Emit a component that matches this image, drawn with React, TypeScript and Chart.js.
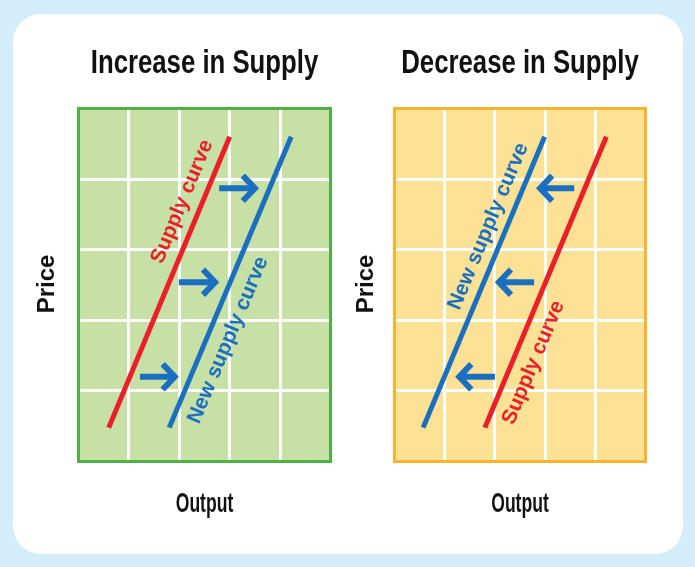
import { useEffect, useRef } from "react";
import { Chart, registerables } from "chart.js";

Chart.register(...registerables);

// ---------- data ----------
const panelTitles = ["Increase in Supply", "Decrease in Supply"];
const xAxisLabel = "Output";
const yAxisLabel = "Price";
const supplyLabel = "Supply curve";
const newSupplyLabel = "New supply curve";

// Increase in Supply
const incSupplyX = [0.6, 3.0];
const incSupplyY = [0.48, 4.6];
const incNewX = [1.8, 4.22];
const incNewY = [0.48, 4.6];
const incArrowY = [3.87, 2.54, 1.2];
const incArrowFrom = [2.79, 1.99, 1.22];
const incArrowTo = [3.5, 2.71, 1.91];
const incSupplyLabelPos = [2.06, 3.68];
const incNewLabelPos = [2.97, 1.72];

// Decrease in Supply
const decSupplyX = [1.8, 4.22];
const decSupplyY = [0.48, 4.6];
const decNewX = [0.57, 2.99];
const decNewY = [0.48, 4.6];
const decArrowY = [3.87, 2.54, 1.2];
const decArrowFrom = [3.58, 2.78, 2.0];
const decArrowTo = [2.9, 2.08, 1.29];
const decSupplyLabelPos = [2.77, 1.4];
const decNewLabelPos = [1.87, 3.33];

const axisMin = 0;
const axisMax = 5;
const headBack = 0.24;
const headHalf = 0.18;

// ---------- styles ----------
const RED = "#ea1f27";
const BLUE = "#1a6fc1";
const SANS = '"Liberation Sans", Arial, Helvetica, sans-serif';
const INK = "#111111";

type Pt = { x: number; y: number };
const pts = (xs: number[], ys: number[]): Pt[] => xs.map((x, i) => ({ x, y: ys[i] }));

type LabelSpec = { text: string; pos: number[]; color: string; along: Pt[] };

function arrowDatasets(ys: number[], from: number[], to: number[]) {
  const out: any[] = [];
  ys.forEach((y, i) => {
    const dir = to[i] > from[i] ? 1 : -1;
    out.push({
      data: [
        { x: from[i], y },
        { x: to[i], y },
      ],
      showLine: true,
      borderColor: BLUE,
      borderWidth: 6,
      borderCapStyle: "butt",
      pointRadius: 0,
    });
    out.push({
      data: [
        { x: to[i] - dir * headBack, y: y + headHalf },
        { x: to[i], y },
        { x: to[i] - dir * headBack, y: y - headHalf },
      ],
      showLine: true,
      borderColor: BLUE,
      borderWidth: 6,
      borderCapStyle: "butt",
      borderJoinStyle: "miter",
      pointRadius: 0,
    });
  });
  return out;
}

type PanelCfg = {
  title: string;
  fill: string;
  stroke: string;
  supply: Pt[];
  newSupply: Pt[];
  arrows: any[];
  labels: LabelSpec[];
  priceOffset: number;
  padding: { left: number; top: number; right: number; bottom: number };
};

function drawText(
  ctx: CanvasRenderingContext2D,
  text: string,
  x: number,
  y: number,
  font: string,
  color: string,
  rotation: number,
  scaleX: number,
  baseline: CanvasTextBaseline
) {
  ctx.save();
  ctx.translate(x, y);
  ctx.rotate(rotation);
  ctx.scale(scaleX, 1);
  ctx.font = font;
  ctx.fillStyle = color;
  ctx.textAlign = "center";
  ctx.textBaseline = baseline;
  ctx.fillText(text, 0, 0);
  ctx.restore();
}

function Panel({ cfg, box }: { cfg: PanelCfg; box: { left: number; top: number; width: number; height: number } }) {
  const ref = useRef<HTMLCanvasElement | null>(null);
  useEffect(() => {
    if (!ref.current) return;
    const panelPlugin = {
      id: "panelDeco",
      beforeDraw(chart: any) {
        const { ctx, chartArea: a } = chart;
        ctx.save();
        ctx.fillStyle = cfg.fill;
        ctx.fillRect(a.left, a.top, a.right - a.left, a.bottom - a.top);
        ctx.restore();
      },
      beforeDatasetsDraw(chart: any) {
        const { ctx, chartArea: a } = chart;
        ctx.save();
        ctx.strokeStyle = cfg.stroke;
        ctx.lineWidth = 3;
        ctx.strokeRect(a.left, a.top, a.right - a.left, a.bottom - a.top);
        ctx.restore();
      },
      afterDatasetsDraw(chart: any) {
        const { ctx, chartArea: a } = chart;
        const xs = chart.scales.x;
        const ys = chart.scales.y;
        // curve labels, rotated along their curve
        cfg.labels.forEach((l) => {
          const p0x = xs.getPixelForValue(l.along[0].x);
          const p0y = ys.getPixelForValue(l.along[0].y);
          const p1x = xs.getPixelForValue(l.along[1].x);
          const p1y = ys.getPixelForValue(l.along[1].y);
          const ang = Math.atan2(p1y - p0y, p1x - p0x);
          drawText(
            ctx,
            l.text,
            xs.getPixelForValue(l.pos[0]),
            ys.getPixelForValue(l.pos[1]),
            `bold 21px ${SANS}`,
            l.color,
            ang,
            1,
            "middle"
          );
        });
        const cx = (a.left + a.right) / 2;
        const cy = (a.top + a.bottom) / 2;
        // panel title
        drawText(ctx, cfg.title, cx, a.top - 35.5, `bold 33px ${SANS}`, INK, 0, 0.78, "alphabetic");
        // x axis title
        drawText(ctx, xAxisLabel, cx, a.bottom + 50.5, `bold 27px ${SANS}`, INK, 0, 0.65, "alphabetic");
        // y axis title
        drawText(ctx, yAxisLabel, a.left - cfg.priceOffset, cy - 1, `bold 24px ${SANS}`, INK, -Math.PI / 2, 1, "alphabetic");
      },
    };

    const chart = new Chart(ref.current, {
      type: "scatter",
      data: {
        datasets: [
          {
            label: supplyLabel,
            data: cfg.supply,
            showLine: true,
            borderColor: RED,
            borderWidth: 5,
            borderCapStyle: "butt",
            pointRadius: 0,
          },
          {
            label: newSupplyLabel,
            data: cfg.newSupply,
            showLine: true,
            borderColor: BLUE,
            borderWidth: 5,
            borderCapStyle: "butt",
            pointRadius: 0,
          },
          ...cfg.arrows,
        ] as any,
      },
      options: {
        animation: false,
        responsive: true,
        maintainAspectRatio: false,
        layout: { padding: cfg.padding },
        plugins: { legend: { display: false }, tooltip: { enabled: false } },
        scales: {
          x: {
            type: "linear",
            min: axisMin,
            max: axisMax,
            ticks: { display: false, stepSize: 1 },
            grid: { color: "#ffffff", lineWidth: 3, drawTicks: false },
            border: { display: false },
            title: { display: false },
          },
          y: {
            type: "linear",
            min: axisMin,
            max: axisMax,
            ticks: { display: false, stepSize: 1 },
            grid: { color: "#ffffff", lineWidth: 3, drawTicks: false },
            border: { display: false },
            title: { display: false },
          },
        } as any,
      },
      plugins: [panelPlugin],
    });
    return () => chart.destroy();
  }, [cfg]);

  return (
    <div style={{ position: "absolute", left: box.left, top: box.top, width: box.width, height: box.height }}>
      <canvas ref={ref} />
    </div>
  );
}

const incSupply = pts(incSupplyX, incSupplyY);
const incNew = pts(incNewX, incNewY);
const decSupply = pts(decSupplyX, decSupplyY);
const decNew = pts(decNewX, decNewY);

const leftCfg: PanelCfg = {
  title: panelTitles[0],
  fill: "#c6e0a6",
  stroke: "#4fb043",
  supply: incSupply,
  newSupply: incNew,
  arrows: arrowDatasets(incArrowY, incArrowFrom, incArrowTo),
  labels: [
    { text: supplyLabel, pos: incSupplyLabelPos, color: RED, along: incSupply },
    { text: newSupplyLabel, pos: incNewLabelPos, color: BLUE, along: incNew },
  ],
  priceOffset: 24.5,
  padding: { left: 58.5, top: 88.5, right: 1.5, bottom: 58.5 },
};

const rightCfg: PanelCfg = {
  title: panelTitles[1],
  fill: "#fde195",
  stroke: "#f7b431",
  supply: decSupply,
  newSupply: decNew,
  arrows: arrowDatasets(decArrowY, decArrowFrom, decArrowTo),
  labels: [
    { text: supplyLabel, pos: decSupplyLabelPos, color: RED, along: decSupply },
    { text: newSupplyLabel, pos: decNewLabelPos, color: BLUE, along: decNew },
  ],
  priceOffset: 22,
  padding: { left: 56.5, top: 88.5, right: 2.5, bottom: 58.5 },
};

export default function App() {
  return (
    <div style={{ position: "absolute", left: 0, top: 0, width: 695, height: 567, background: "#d3eefa", overflow: "hidden" }}>
      <div
        style={{
          position: "absolute",
          left: 13,
          top: 14,
          width: 670,
          height: 540,
          background: "#ffffff",
          borderRadius: 28,
        }}
      />
      <Panel cfg={leftCfg} box={{ left: 20, top: 20, width: 312, height: 500 }} />
      <Panel cfg={rightCfg} box={{ left: 338, top: 20, width: 310, height: 500 }} />
    </div>
  );
}
